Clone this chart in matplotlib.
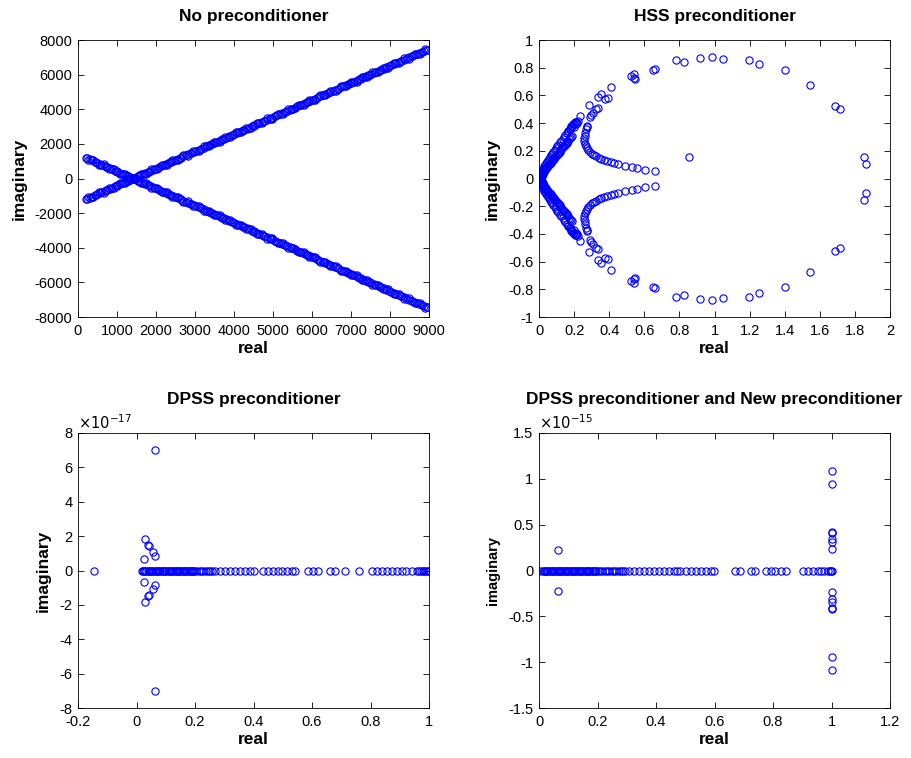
import matplotlib.pyplot as plt
from matplotlib.ticker import FixedLocator, FuncFormatter

plt.rcParams['font.family'] = ['Liberation Sans', 'DejaVu Sans']
plt.rcParams['axes.unicode_minus'] = False

# --- No preconditioner: upper-half eigenvalues (conjugates are mirrored) ---
no_re = [200, 265, 330, 395, 460, 530, 600, 665, 730, 800, 870, 935, 1000, 1070,
         1140, 1205, 1270, 1340, 1410, 1475, 1540, 1610, 1680, 1745, 1810, 1880,
         1950, 2015, 2080, 2150, 2220, 2285, 2350, 2420, 2490, 2555, 2620, 2690,
         2760, 2825, 2890, 2960, 3030, 3095, 3160, 3230, 3300, 3365, 3430, 3500,
         3570, 3635, 3700, 3770, 3840, 3905, 3970, 4040, 4110, 4175, 4240, 4310,
         4380, 4445, 4510, 4580, 4650, 4715, 4780, 4850, 4920, 4985, 5050, 5120,
         5190, 5255, 5320, 5390, 5460, 5525, 5590, 5660, 5730, 5795, 5860, 5930,
         6000, 6065, 6130, 6200, 6270, 6335, 6400, 6470, 6540, 6605, 6670, 6740,
         6810, 6875, 6940, 7010, 7080, 7145, 7210, 7280, 7350, 7415, 7480, 7550,
         7620, 7685, 7750, 7820, 7890, 7955, 8020, 8090, 8160, 8225, 8290, 8360,
         8430, 8495, 8560, 8630, 8700, 8765, 8830, 8890, 8950,
         232, 297, 362, 427, 492, 557, 622, 687, 752, 817, 882, 947, 1012, 1077,
         1142, 1207, 1272, 1337, 1402, 1467, 1532, 1597, 1662, 1727, 1792, 1857,
         1922, 1987, 2052, 2117, 2182, 2247, 2312, 2377, 2442, 2507, 2572, 2637,
         2702, 2767, 2832, 2897, 2962, 3027, 3092, 3157, 3222, 3287, 3352, 3417,
         3482, 3547, 3612, 3677, 3742, 3807, 3872, 3937, 4002, 4067, 4132, 4197,
         4262, 4327, 4392, 4457, 4522, 4587, 4652, 4717, 4782, 4847, 4912, 4977,
         5042, 5107, 5172, 5237, 5302, 5367, 5432, 5497, 5562, 5627, 5692, 5757,
         5822, 5887, 5952, 6017, 6082, 6147, 6212, 6277, 6342, 6407, 6472, 6537,
         6602, 6667, 6732, 6797, 6862, 6927, 6992, 7057, 7122, 7187, 7252, 7317,
         7382, 7447, 7512, 7577, 7642, 7707, 7772, 7837, 7902, 7967, 8032, 8097,
         8162, 8227, 8292, 8357, 8422, 8487, 8552, 8617, 8682, 8747, 8812, 8877,
         8942]
no_im = [-1200, -1066, -1071, -1077, -943, -804, -805, -810, -676, -537, -538, -543,
         -409, -270, -271, -276, -142, -3, -4, -10, 125, 264, 263, 257, 392, 531,
         530, 524, 659, 798, 797, 791, 925, 1065, 1064, 1058, 1192, 1332, 1331,
         1325, 1459, 1599, 1598, 1592, 1726, 1865, 1865, 1859, 1993, 2132, 2132,
         2126, 2260, 2399, 2399, 2393, 2527, 2666, 2665, 2660, 2794, 2933, 2932,
         2927, 3061, 3200, 3199, 3194, 3328, 3467, 3466, 3461, 3595, 3734, 3733,
         3727, 3862, 4001, 4000, 3994, 4129, 4268, 4267, 4261, 4395, 4535, 4534,
         4528, 4662, 4802, 4801, 4795, 4929, 5069, 5068, 5062, 5196, 5336, 5335,
         5329, 5463, 5602, 5602, 5596, 5730, 5869, 5868, 5863, 5997, 6136, 6135,
         6130, 6264, 6403, 6402, 6397, 6531, 6670, 6669, 6664, 6798, 6937, 6936,
         6931, 7065, 7204, 7203, 7198, 7332, 7461, 7450,
         -1168, -1104, -1040, -976, -911, -847, -783, -719, -654, -590, -526, -462,
         -397, -333, -269, -205, -140, -76, -12, 53, 117, 181, 245, 310, 374, 438,
         502, 567, 631, 695, 759, 824, 888, 952, 1016, 1081, 1145, 1209, 1273,
         1338, 1402, 1466, 1531, 1595, 1659, 1723, 1788, 1852, 1916, 1980, 2045,
         2109, 2173, 2237, 2302, 2366, 2430, 2494, 2559, 2623, 2687, 2751, 2816,
         2880, 2944, 3008, 3073, 3137, 3201, 3265, 3330, 3394, 3458, 3523, 3587,
         3651, 3715, 3780, 3844, 3908, 3972, 4037, 4101, 4165, 4229, 4294, 4358,
         4422, 4486, 4551, 4615, 4679, 4744, 4808, 4872, 4936, 5001, 5065, 5129,
         5193, 5258, 5322, 5386, 5450, 5515, 5579, 5643, 5707, 5772, 5836, 5900,
         5964, 6029, 6093, 6157, 6222, 6286, 6350, 6414, 6479, 6543, 6607, 6671,
         6736, 6800, 6864, 6928, 6993, 7057, 7121, 7185, 7250, 7314, 7378, 7442]

# --- HSS preconditioner: upper half ---
hss_re = [0.003, 0.006, 0.01, 0.014, 0.018, 0.022, 0.026, 0.031, 0.036, 0.041, 0.046,
          0.052, 0.058, 0.064, 0.07, 0.076, 0.082, 0.089, 0.096, 0.103, 0.11, 0.118,
          0.126, 0.134, 0.142, 0.15, 0.158, 0.166, 0.174, 0.182, 0.19, 0.198, 0.21,
          0.22, 0.232,
          0.002, 0.005, 0.015, 0.02, 0.028, 0.035, 0.042, 0.05, 0.058, 0.066, 0.075,
          0.084, 0.093, 0.102, 0.112, 0.122, 0.132, 0.142, 0.152, 0.162, 0.172,
          0.182, 0.18, 0.195, 0.205,
          0.01, 0.016, 0.024, 0.03, 0.038, 0.046, 0.054, 0.062, 0.07, 0.079, 0.088,
          0.097, 0.107, 0.117, 0.127, 0.137, 0.147, 0.157, 0.167, 0.177, 0.187,
          0.168, 0.178, 0.2, 0.21, 0.215,
          0.26, 0.26, 0.255, 0.258, 0.262, 0.267, 0.272, 0.28, 0.29, 0.3, 0.312, 0.325,
          0.34, 0.355, 0.37, 0.39, 0.41, 0.43, 0.452, 0.49, 0.53, 0.557, 0.604, 0.659,
          0.268, 0.272, 0.275, 0.29, 0.298, 0.306, 0.325, 0.334,
          0.285, 0.334, 0.353, 0.376, 0.391, 0.41, 0.524, 0.543, 0.539, 0.549, 0.651,
          0.661, 0.781, 0.824, 0.915, 0.986, 1.05, 1.197, 1.252, 1.40, 1.542, 1.688,
          1.713, 1.854, 1.865]
hss_im = [0.008, 0.018, 0.03, 0.042, 0.054, 0.065, 0.077, 0.088, 0.099, 0.11, 0.12,
          0.132, 0.144, 0.156, 0.168, 0.18, 0.192, 0.205, 0.218, 0.232, 0.245, 0.26,
          0.274, 0.288, 0.302, 0.316, 0.329, 0.342, 0.355, 0.367, 0.379, 0.39, 0.405,
          0.418, 0.452,
          0.0, 0.004, 0.02, 0.035, 0.05, 0.065, 0.078, 0.09, 0.102, 0.115, 0.128,
          0.142, 0.156, 0.17, 0.186, 0.202, 0.218, 0.234, 0.25, 0.266, 0.282,
          0.3, 0.38, 0.395, 0.41,
          0.012, 0.024, 0.04, 0.055, 0.07, 0.084, 0.096, 0.108, 0.122, 0.135, 0.149,
          0.163, 0.178, 0.194, 0.21, 0.226, 0.242, 0.258, 0.274, 0.29, 0.31,
          0.345, 0.36, 0.37, 0.39, 0.4,
          0.33, 0.31, 0.29, 0.27, 0.25, 0.235, 0.22, 0.205, 0.19, 0.18, 0.17, 0.16,
          0.15, 0.142, 0.135, 0.125, 0.118, 0.11, 0.102, 0.092, 0.082, 0.075, 0.063,
          0.055,
          0.36, 0.37, 0.378, 0.446, 0.46, 0.475, 0.5, 0.51,
          0.53, 0.588, 0.607, 0.571, 0.583, 0.66, 0.742, 0.757, 0.723, 0.72, 0.783,
          0.788, 0.853, 0.839, 0.872, 0.88, 0.863, 0.858, 0.829, 0.783, 0.675, 0.525,
          0.501, 0.157, 0.108]
hss_extra_re = [0.857]
hss_extra_im = [0.157]

# --- DPSS preconditioner ---
dpss_real = [-0.145, 0.018, 0.022, 0.026, 0.03, 0.034, 0.038, 0.042, 0.046, 0.05,
             0.054, 0.058, 0.062, 0.066, 0.07, 0.074, 0.078, 0.082, 0.086, 0.09,
             0.094, 0.098, 0.102, 0.106, 0.11, 0.114, 0.118, 0.122, 0.126, 0.13,
             0.134, 0.138, 0.142, 0.146, 0.15, 0.154, 0.158, 0.162, 0.166, 0.17,
             0.174, 0.178, 0.182, 0.186, 0.19, 0.194, 0.198, 0.205, 0.213, 0.221,
             0.229, 0.237, 0.245, 0.251, 0.257, 0.268, 0.285, 0.302, 0.32, 0.337,
             0.354, 0.371, 0.388, 0.4, 0.434, 0.448, 0.468, 0.485, 0.496, 0.514,
             0.531, 0.542, 0.587, 0.604, 0.621, 0.662, 0.679, 0.713, 0.761, 0.804,
             0.821, 0.838, 0.855, 0.872, 0.889, 0.906, 0.923, 0.941, 0.958, 0.965,
             0.972, 0.978, 0.984, 0.99, 0.995, 0.999]
dpss_cx_re = [0.062, 0.029, 0.038, 0.043, 0.058, 0.062, 0.026]
dpss_cx_im = [7.0, 1.81, 1.5, 1.4, 1.08, 0.85, 0.65]  # x1e-17

# --- DPSS + New preconditioner ---
new_real = [0.003, 0.012, 0.016, 0.02, 0.024, 0.028, 0.032, 0.036, 0.04, 0.044,
            0.048, 0.052, 0.056, 0.06, 0.064, 0.068, 0.072, 0.076, 0.08, 0.084,
            0.088, 0.092, 0.096, 0.1, 0.104, 0.108, 0.112, 0.116, 0.12, 0.124,
            0.128, 0.132, 0.136, 0.14, 0.144, 0.148, 0.152, 0.156, 0.16, 0.164,
            0.168, 0.172, 0.176, 0.18, 0.184, 0.188, 0.192, 0.196, 0.2, 0.208,
            0.216, 0.224, 0.232, 0.24, 0.248, 0.256, 0.264, 0.272, 0.28, 0.287,
            0.293, 0.308, 0.325, 0.342, 0.359, 0.376, 0.393, 0.41, 0.427, 0.445,
            0.462, 0.473, 0.481, 0.504, 0.521, 0.538, 0.555, 0.572, 0.587, 0.597,
            0.669, 0.686, 0.726, 0.74, 0.777, 0.794, 0.808, 0.828, 0.845, 0.902,
            0.919, 0.936, 0.953, 0.965, 0.976, 0.987, 0.995, 0.999, 1.0]
new_cx_re = [0.066, 1.0, 1.0, 1.0, 1.0, 1.0, 1.0, 1.0]
new_cx_im = [0.227, 1.083, 0.946, 0.42, 0.405, 0.343, 0.314, 0.235]  # x1e-15

BLUE = (0, 0, 1)
mk = dict(linestyle='none', marker='o', markersize=5.2, markerfacecolor='none',
          markeredgecolor=BLUE, markeredgewidth=0.8)

fig = plt.figure(figsize=(9.11, 7.58), dpi=100)
W, H = 911, 758


def make_ax(x0, x1, y0, y1):
    return fig.add_axes([x0 / W, 1 - y1 / H, (x1 - x0) / W, (y1 - y0) / H])


def style(ax, title, xt, yt, xl, yl, tpad, ylsize=12.5):
    ax.set_xlim(*xl)
    ax.set_ylim(*yl)
    ax.xaxis.set_major_locator(FixedLocator(xt))
    ax.yaxis.set_major_locator(FixedLocator(yt))
    ax.xaxis.set_major_formatter(FuncFormatter(lambda v, p: '%g' % v))
    ax.yaxis.set_major_formatter(FuncFormatter(lambda v, p: '%g' % v))
    ax.tick_params(direction='in', top=True, right=True, length=4, width=0.6,
                   labelsize=10.5, pad=4)
    ax.tick_params(axis='x', pad=5)
    for s in ax.spines.values():
        s.set_linewidth(0.6)
    ax.set_title(title, fontsize=12.5, fontweight='bold', pad=tpad)
    ax.set_xlabel('real', fontsize=12.5, fontweight='bold', labelpad=2)
    ax.set_ylabel('imaginary', fontsize=ylsize, fontweight='bold', labelpad=6)


ax1 = make_ax(78, 429, 40, 317)
ax1.plot(no_re, no_im, **mk)
ax1.plot(no_re, [-v for v in no_im], **mk)
style(ax1, 'No preconditioner', list(range(0, 9001, 1000)),
      list(range(-8000, 8001, 2000)), (0, 9000), (-8000, 8000), 14)

ax2 = make_ax(539, 890, 40, 317)
ax2.plot(hss_re, hss_im, **mk)
ax2.plot(hss_re, [-v for v in hss_im], **mk)
ax2.plot(hss_extra_re, hss_extra_im, **mk)
style(ax2, 'HSS preconditioner', [i / 5 for i in range(11)],
      [i / 5 - 1 for i in range(11)], (0, 2), (-1, 1), 14)

ax3 = make_ax(78, 429, 433, 708)
ax3.plot(dpss_real, [0] * len(dpss_real), **mk)
ax3.plot(dpss_cx_re, dpss_cx_im, **mk)
ax3.plot(dpss_cx_re, [-v for v in dpss_cx_im], **mk)
style(ax3, 'DPSS preconditioner', [-0.2, 0, 0.2, 0.4, 0.6, 0.8, 1],
      [-8, -6, -4, -2, 0, 2, 4, 6, 8], (-0.2, 1), (-8, 8), 21)
ax3.text(0, 1.004, r'$\times10^{-17}$', transform=ax3.transAxes, fontsize=10.5,
         ha='left', va='bottom')

ax4 = make_ax(539, 890, 433, 708)
ax4.plot(new_real, [0] * len(new_real), **mk)
ax4.plot(new_cx_re, new_cx_im, **mk)
ax4.plot(new_cx_re, [-v for v in new_cx_im], **mk)
style(ax4, 'DPSS preconditioner and New preconditioner',
      [0, 0.2, 0.4, 0.6, 0.8, 1, 1.2], [-1.5, -1, -0.5, 0, 0.5, 1, 1.5],
      (0, 1.2), (-1.5, 1.5), 21, ylsize=10.5)
ax4.text(0, 1.004, r'$\times10^{-15}$', transform=ax4.transAxes, fontsize=10.5,
         ha='left', va='bottom')

fig.savefig('out.png', dpi=100)
